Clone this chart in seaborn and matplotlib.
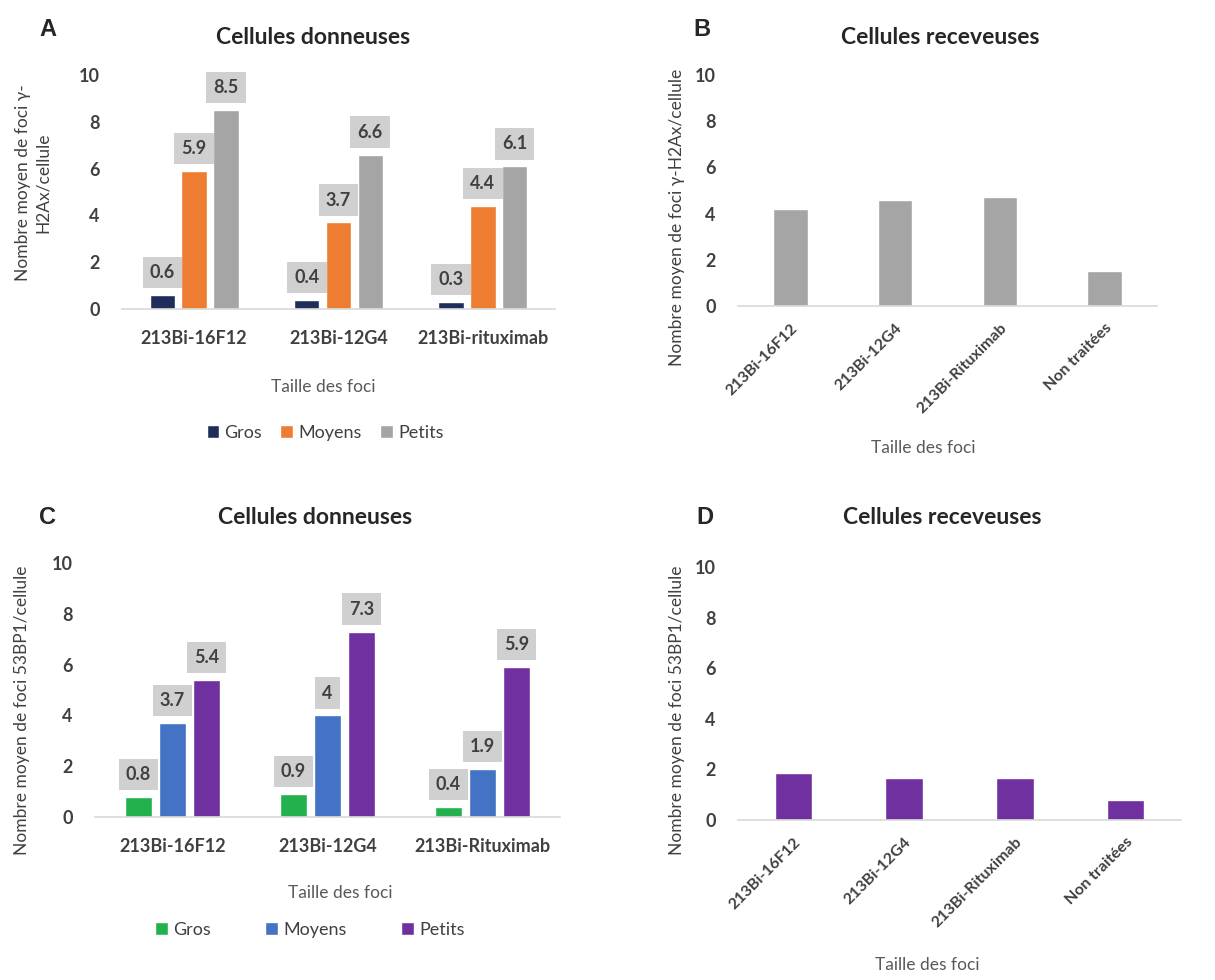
import pandas as pd
import matplotlib.pyplot as plt
import seaborn as sns

# donnees
groupes_A = ['213Bi-16F12', '213Bi-12G4', '213Bi-rituximab']
groupes_C = ['213Bi-16F12', '213Bi-12G4', '213Bi-Rituximab']
tailles = ['Gros', 'Moyens', 'Petits']
gros_A = [0.6, 0.4, 0.3]
moyens_A = [5.9, 3.7, 4.4]
petits_A = [8.5, 6.6, 6.1]
gros_C = [0.8, 0.9, 0.4]
moyens_C = [3.7, 4, 1.9]
petits_C = [5.4, 7.3, 5.9]

recev_cats = ['213Bi-16F12', '213Bi-12G4', '213Bi-Rituximab', 'Non traitées']
recev_B = [4.2, 4.6, 4.7, 1.5]
recev_D = [1.85, 1.65, 1.65, 0.8]

sns.set_style('white')
plt.rcParams['font.family'] = ['Lato', 'DejaVu Sans']

W, H = 1215, 980
fig = plt.figure(figsize=(W / 100, H / 100), dpi=100)


def px_axes(x0, x1, y_top, y_zero):
    # position d'un axe a partir de pixels
    return fig.add_axes([x0 / W, 1 - y_zero / H, (x1 - x0) / W, (y_zero - y_top) / H])


def style_axe(ax, rot=False):
    ax.set_ylim(0, 10)
    ax.set_yticks([0, 2, 4, 6, 8, 10])
    for s in ['top', 'right', 'left']:
        ax.spines[s].set_visible(False)
    ax.spines['bottom'].set_color('#d9d9d9')
    ax.spines['bottom'].set_linewidth(1.2)
    ax.tick_params(axis='y', length=0, pad=16, labelsize=13, labelcolor='#404040')
    ax.tick_params(axis='x', length=0, labelcolor='#404040')
    for t in ax.get_yticklabels():
        t.set_fontweight('bold')
    ax.set_xlabel('')
    ax.set_ylabel('')
    if rot:
        ax.tick_params(axis='x', pad=11, labelsize=11.5)
        for t in ax.get_xticklabels():
            t.set_rotation(45)
            t.set_ha('right')
            t.set_rotation_mode('anchor')
            t.set_fontweight('bold')
    else:
        ax.tick_params(axis='x', pad=15, labelsize=13)
        for t in ax.get_xticklabels():
            t.set_fontweight('bold')


def etiquettes(ax):
    for cont in ax.containers:
        for rect in cont:
            v = rect.get_height()
            ax.annotate(f'{v:g}', (rect.get_x() + rect.get_width() / 2, v),
                        xytext=(0, 10), textcoords='offset points',
                        ha='center', va='bottom', fontsize=13, fontweight='bold',
                        color='#404040', annotation_clip=False,
                        bbox=dict(boxstyle='square,pad=0.4', fc='#d0d0d0', ec='none'))


def grouped(ax, groupes, g, m, p, couleurs):
    df = pd.DataFrame({
        'Groupe': groupes * 3,
        'Taille': [t for t in tailles for _ in groupes],
        'Valeur': g + m + p,
    })
    sns.barplot(df, x='Groupe', y='Valeur', hue='Taille', palette=couleurs,
                width=0.66, gap=0.2, ax=ax, saturation=1)
    style_axe(ax)
    etiquettes(ax)


# A
axA = px_axes(122, 555, 75, 309)
grouped(axA, groupes_A, gros_A, moyens_A, petits_A, ['#1f2d5a', '#ed7d31', '#a5a5a5'])
h, l = axA.get_legend_handles_labels()
axA.legend(h, l, loc='center', bbox_to_anchor=(325 / W, 1 - 433 / H), bbox_transform=fig.transFigure,
           ncol=3, frameon=False, fontsize=13, handlelength=0.7, handleheight=0.7,
           handletextpad=0.3, columnspacing=1.0, labelcolor='#404040')

# B
axB = px_axes(738, 1157, 75, 306)
sns.barplot(x=recev_cats, y=recev_B, color='#a5a5a5', width=0.33, ax=axB, saturation=1)
style_axe(axB, rot=True)

# C
axC = px_axes(95, 560, 563, 817)
grouped(axC, groupes_C, gros_C, moyens_C, petits_C, ['#22b14c', '#4472c4', '#7030a0'])
h, l = axC.get_legend_handles_labels()
axC.legend(h, l, loc='center', bbox_to_anchor=(310 / W, 1 - 930 / H), bbox_transform=fig.transFigure,
           ncol=3, frameon=False, fontsize=13, handlelength=0.7, handleheight=0.7,
           handletextpad=0.3, columnspacing=3.0, labelcolor='#404040')

# D
axD = px_axes(738, 1181, 567, 820)
sns.barplot(x=recev_cats, y=recev_D, color='#7030a0', width=0.34, ax=axD, saturation=1)
style_axe(axD, rot=True)

# lettres et titres
for lettre, x, y in [('A', 48, 30), ('B', 702, 30), ('C', 48, 518), ('D', 705, 518)]:
    fig.text(x / W, 1 - y / H, lettre, fontsize=17, fontweight='bold',
             family=['Liberation Sans', 'DejaVu Sans'], ha='center', va='center')
for titre, x, y in [('Cellules donneuses', 313, 38), ('Cellules receveuses', 940, 38),
                    ('Cellules donneuses', 315, 518), ('Cellules receveuses', 942, 518)]:
    fig.text(x / W, 1 - y / H, titre, fontsize=16.5, fontweight='bold', ha='center', va='center')

# titres des axes
for x, y in [(323, 387), (923, 448), (340, 893), (927, 965)]:
    fig.text(x / W, 1 - y / H, 'Taille des foci', fontsize=12.5, color='#595959', ha='center', va='center')

fig.text(33 / W, 1 - 183 / H, 'Nombre moyen de foci γ-\nH2Ax/cellule', rotation=90, fontsize=12.5,
         color='#404040', ha='center', va='center', multialignment='center', linespacing=1.3)
fig.text(677 / W, 1 - 217 / H, 'Nombre moyen de foci γ-H2Ax/cellule', rotation=90, fontsize=12.5,
         color='#404040', ha='center', va='center')
fig.text(22 / W, 1 - 710 / H, 'Nombre moyen de foci 53BP1/cellule', rotation=90, fontsize=12.5,
         color='#404040', ha='center', va='center')
fig.text(677 / W, 1 - 710 / H, 'Nombre moyen de foci 53BP1/cellule', rotation=90, fontsize=12.5,
         color='#404040', ha='center', va='center')

plt.savefig('out.png', dpi=100)
